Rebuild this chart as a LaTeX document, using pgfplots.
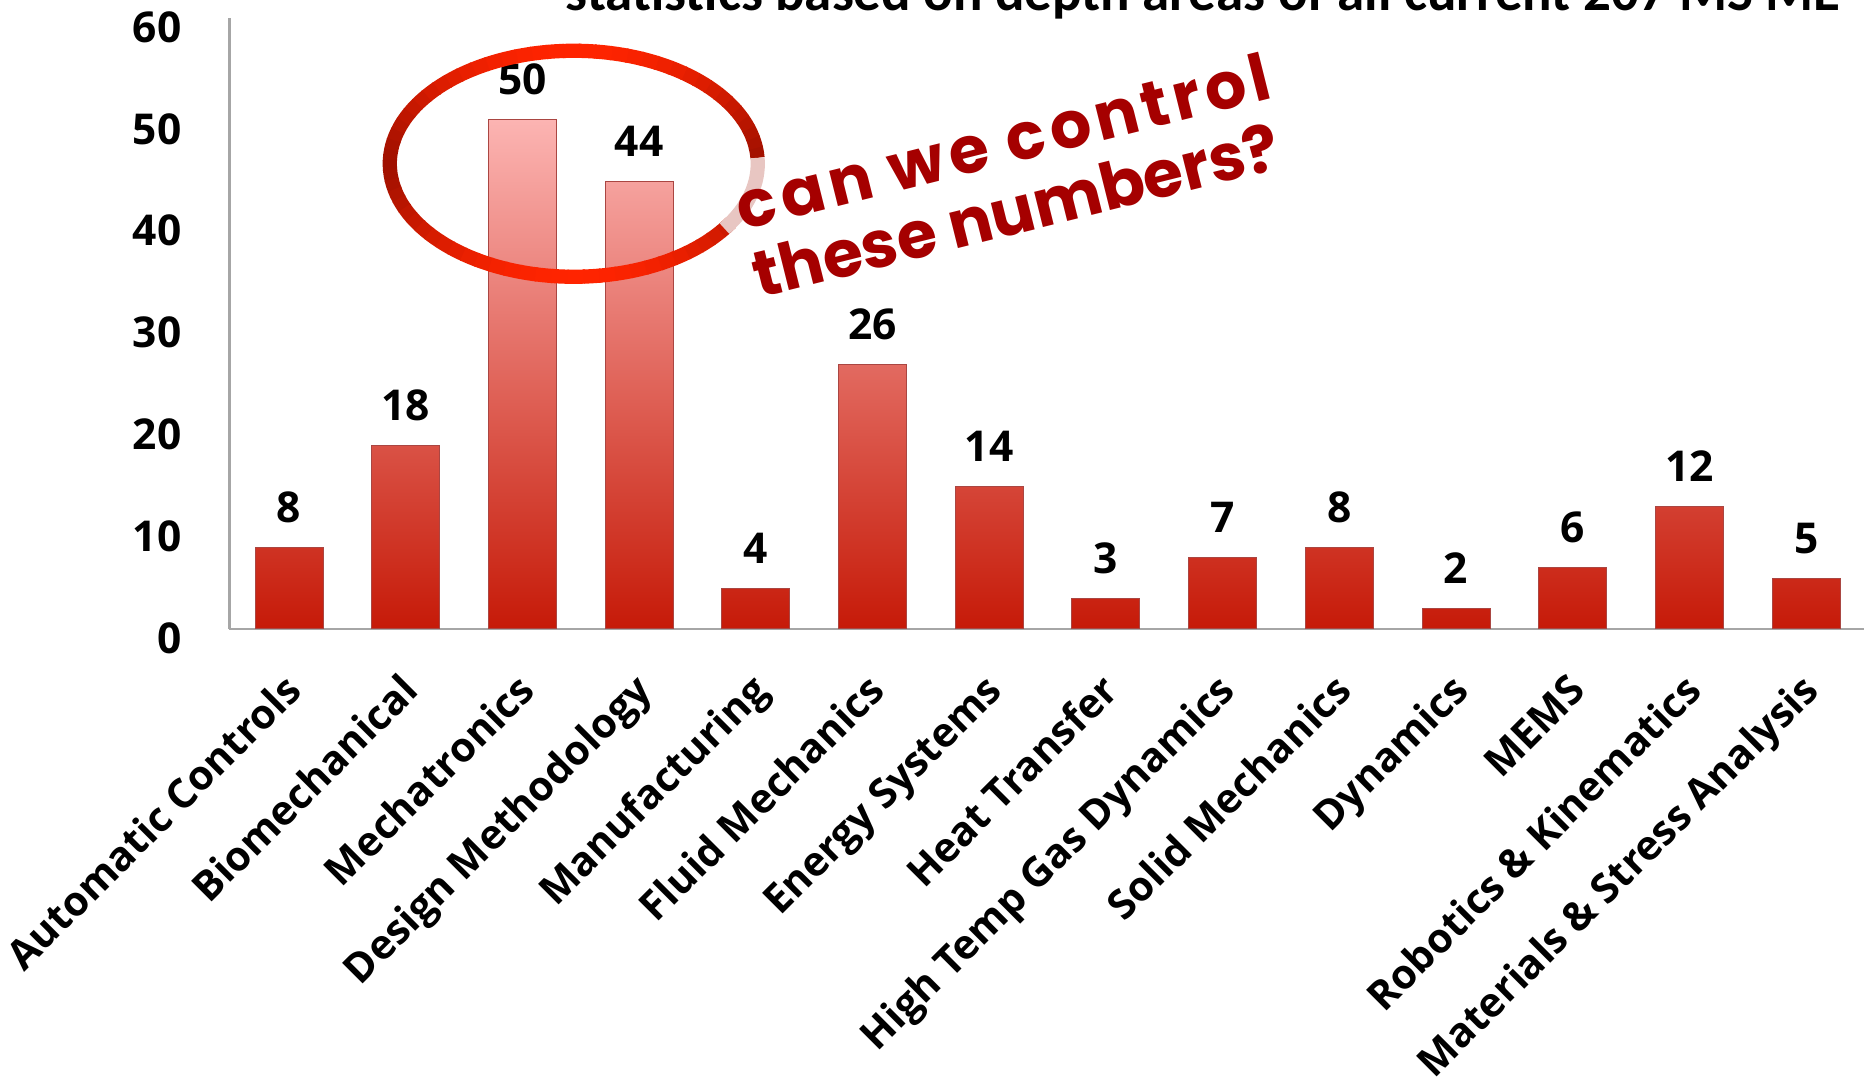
\documentclass[border=0pt]{standalone}
\usepackage{fontspec}
\setmainfont{Carlito}
\newfontfamily\labfont{Open Sans}
\newfontfamily\handfont{Poppins}
\usepackage{pgfplots}
\pgfplotsset{compat=1.18}
\definecolor{barlight}{RGB}{252,180,178}
\definecolor{bardark}{RGB}{198,26,8}
\definecolor{baredge}{RGB}{170,70,66}
\definecolor{axisgray}{RGB}{166,166,166}
\definecolor{ringbright}{RGB}{255,36,0}
\definecolor{ringdark}{RGB}{160,16,0}
\definecolor{ringpale}{RGB}{232,198,194}
\definecolor{annot}{RGB}{165,0,0}
\begin{document}
\begin{tikzpicture}
\begin{axis}[
  at={(0,0)}, anchor=south west,
  x=46.68pt, y=4.072pt,
  xmin=-0.51, xmax=13.5, ymin=0, ymax=60,
  axis x line*=bottom, axis y line*=left,
  axis line style={draw=axisgray, line width=0.9pt, -},
  ytick={0,10,...,60},
  xtick={0,...,13},
  xticklabels={Automatic Controls, Biomechanical, Mechatronics, Design Methodology, Manufacturing, Fluid Mechanics, Energy Systems, Heat Transfer, High Temp Gas Dynamics, Solid Mechanics, Dynamics, MEMS, Robotics \& Kinematics, Materials \& Stress Analysis},
  major tick length=0pt,
  xticklabel style={font=\labfont\bfseries\fontsize{16.3}{18}\selectfont},
  yticklabel style={font=\labfont\bfseries\fontsize{17}{19}\selectfont},
  /pgf/number format/assume math mode=true,
  yticklabel style={anchor=east, inner sep=0pt, xshift=-19pt, yshift=-3.6pt},
  xticklabel style={anchor=base east, inner sep=0pt, xshift=6pt, yshift=-25.5pt, rotate=45},
  clip=false,
  ybar, bar width=27.2pt,
  nodes near coords,
  nodes near coords style={font=\labfont\bfseries\fontsize{17}{19}\selectfont, anchor=base, inner sep=0pt, yshift=10pt, text=black},
]
\addplot[draw=baredge, line width=0.4pt, top color=barlight, bottom color=bardark]
  coordinates {(0,8) (1,18) (2,50) (3,44) (4,4) (5,26) (6,14) (7,3) (8,7) (9,8) (10,2) (11,6) (12,12) (13,5)};
\node[anchor=base east, inner sep=0pt, font=\bfseries\fontsize{22}{24}\selectfont] at (axis cs:13.30,60.8) {statistics based on depth areas of all current 207 MS ME};
\coordinate (ellc) at (axis cs:2.44,45.7);
\coordinate (annc) at (axis cs:6.19,44.6);
\end{axis}
\foreach \a in {3,8,...,323} {
  \pgfmathsetmacro\p{100*abs(sin(\a+2.5))^1.3}
  \colorlet{segc}{ringbright!\p!ringdark}
  \draw[segc, line width=5.7pt] (ellc) ++(\a:73.6pt and 45.2pt) arc[start angle=\a, end angle=\a+5.5, x radius=73.6pt, y radius=45.2pt];
}
\draw[ringpale, line width=5.7pt] (ellc) ++(-35:73.6pt and 45.2pt) arc[start angle=-35, end angle=3, x radius=73.6pt, y radius=45.2pt];
\node[rotate=14, align=left, text=annot, inner sep=0pt, font=\handfont\bfseries\fontsize{26}{28}\selectfont] at (annc) {{\addfontfeature{LetterSpace=8}can we control}\\these numbers?};
\pgfresetboundingbox
\path[use as bounding box] (-91.8pt,-183.6pt) rectangle (654.2pt,251.6pt);
\end{tikzpicture}
\end{document}
